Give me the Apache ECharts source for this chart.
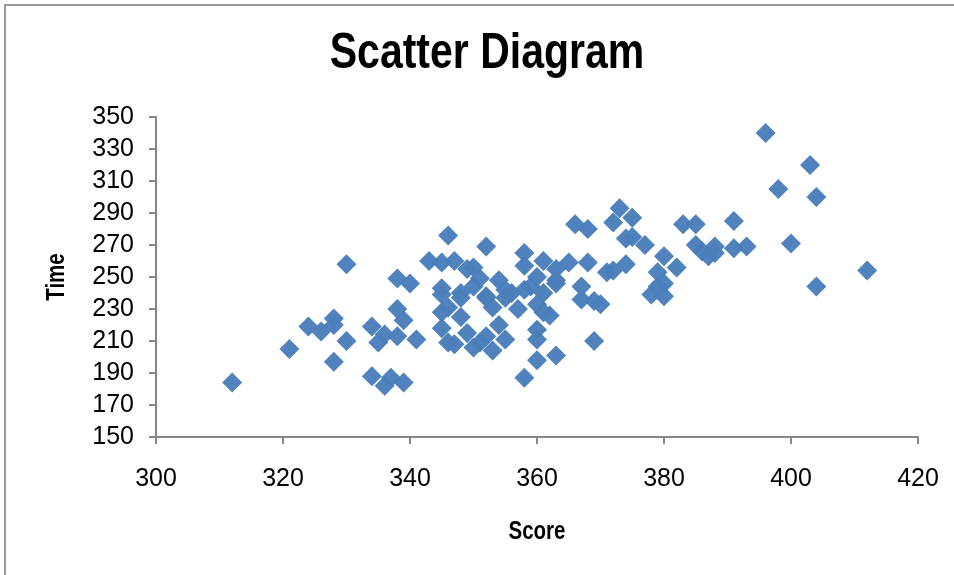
<!DOCTYPE html>
<html>
<head>
<meta charset="utf-8">
<title>Scatter Diagram</title>
<script src="https://cdn.jsdelivr.net/npm/echarts@6/dist/echarts.min.js"></script>
<style>
  html, body { margin: 0; padding: 0; background: #fff; }
  #chart { width: 954px; height: 575px; }
</style>
</head>
<body>
<div id="chart"></div>
<script>
// Score / Time observations
const scores = [
  312, 321, 324, 326, 328, 328, 330, 328, 330,
  334, 336, 335, 334, 336, 337, 339,
  338, 340, 338, 339, 338, 341,
  343, 345, 347, 349, 350, 346, 352,
  345, 348, 350, 351, 352, 354, 355, 356,
  358, 358, 361, 363, 360, 359, 358, 361, 363, 363,
  360, 361, 362,
  366, 368, 365, 368,
  367, 367, 369, 370, 369, 363,
  345, 346, 348, 345, 346, 347, 349, 350, 351, 352, 353, 355, 354, 353, 357,
  348, 352, 355, 345,
  360, 360, 360, 358,
  373, 372, 375, 374, 375, 377,
  371, 372, 374,
  380, 382, 379, 380, 379, 378, 380,
  383, 385, 385, 386, 387, 388, 388, 391, 393, 391,
  396, 403, 398, 404, 400, 412, 404
];
const times = [
  184, 205, 219, 216, 224, 220, 210, 197, 258,
  219, 214, 209, 188, 182, 187, 184,
  249, 246, 230, 223, 213, 211,
  260, 259, 260, 255, 256, 276, 269,
  243, 240, 244, 249, 238, 248, 242, 240,
  265, 257, 260, 255, 250, 244, 242, 240, 248, 246,
  233, 228, 226,
  283, 280, 259, 259,
  244, 236, 235, 233, 210, 201,
  228, 231, 225, 218, 209, 208, 215, 206, 209, 213, 204, 211, 220, 231, 230,
  237, 237, 237, 239,
  217, 211, 198, 187,
  293, 284, 287, 274, 275, 270,
  253, 254, 258,
  263, 256, 253, 246, 244, 239, 238,
  283, 283, 270, 266, 263, 269, 265, 268, 269, 285,
  340, 320, 305, 300, 271, 254, 244
];
const xTicks = { min: 300, max: 420, interval: 20 };
const yTicks = { min: 150, max: 350, interval: 20 };
const titleText = 'Scatter Diagram';
const xName = 'Score';
const yName = 'Time';

const points = scores.map((s, i) => [s, times[i]]);

const sans = "'Liberation Sans', Arial, sans-serif";
const axisGray = '#868686';
const squeeze = 0.82; // condensed lettering

const chart = echarts.init(document.getElementById('chart'), null, { renderer: 'canvas' });
chart.setOption({
  backgroundColor: '#ffffff',
  animation: false,
  graphic: [
    {
      type: 'rect',
      shape: { x: 5, y: 5, width: 1000, height: 700 },
      style: { fill: 'none', stroke: '#9a9a9a', lineWidth: 2 },
      silent: true
    },
    {
      type: 'text',
      x: 487, y: 54,
      scaleX: squeeze,
      style: {
        text: titleText, fill: '#000',
        font: 'bold 50px ' + sans,
        textAlign: 'center', textVerticalAlign: 'middle'
      },
      silent: true
    },
    {
      type: 'text',
      x: 537, y: 532,
      scaleX: squeeze,
      style: {
        text: xName, fill: '#000',
        font: 'bold 25px ' + sans,
        textAlign: 'center', textVerticalAlign: 'middle'
      },
      silent: true
    },
    {
      type: 'text',
      x: 57, y: 277,
      rotation: Math.PI / 2,
      scaleX: squeeze,
      style: {
        text: yName, fill: '#000',
        font: 'bold 25px ' + sans,
        textAlign: 'center', textVerticalAlign: 'middle'
      },
      silent: true
    }
  ],
  grid: { left: 156, right: 36, top: 117, bottom: 138 },
  xAxis: {
    type: 'value',
    min: xTicks.min, max: xTicks.max, interval: xTicks.interval,
    axisLine: { show: true, lineStyle: { color: axisGray, width: 2 } },
    axisTick: { show: true, inside: false, length: 7, lineStyle: { color: axisGray, width: 2 } },
    axisLabel: { margin: 30, fontFamily: sans, fontSize: 25, color: '#000' },
    splitLine: { show: false }
  },
  yAxis: {
    type: 'value',
    min: yTicks.min, max: yTicks.max, interval: yTicks.interval,
    axisLine: { show: true, lineStyle: { color: axisGray, width: 2 } },
    axisTick: { show: true, inside: false, length: 7, lineStyle: { color: axisGray, width: 2 } },
    axisLabel: { margin: 22, fontFamily: sans, fontSize: 25, color: '#000' },
    splitLine: { show: false }
  },
  series: [{
    type: 'scatter',
    data: points,
    symbol: 'diamond',
    symbolSize: 20,
    itemStyle: { color: '#4a7ebb', opacity: 0.97 }
  }]
});
</script>
</body>
</html>
